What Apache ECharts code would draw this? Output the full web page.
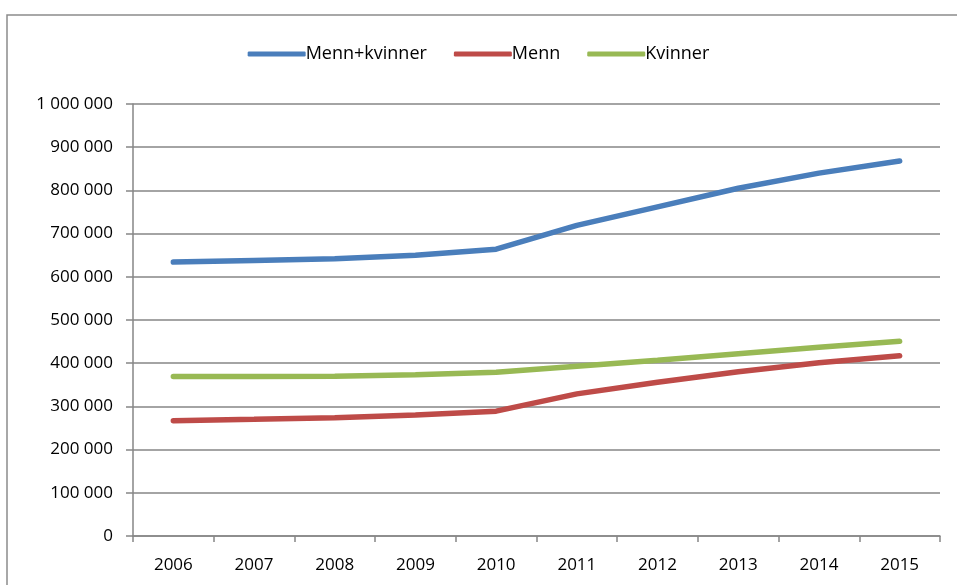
<!DOCTYPE html>
<html>
<head>
<meta charset="utf-8">
<script src="https://cdn.jsdelivr.net/npm/echarts@6/dist/echarts.min.js"></script>
<style>
  html, body { margin: 0; padding: 0; background: #fff; }
  #chart { width: 957px; height: 585px; }
</style>
</head>
<body>
<div id="chart"></div>
<script>
// data
const years = ['2006', '2007', '2008', '2009', '2010', '2011', '2012', '2013', '2014', '2015'];
const mennKvinner = [634000, 638000, 642000, 650000, 664000, 719000, 762000, 805000, 840000, 868000];
const menn = [267000, 270000, 274000, 280000, 289000, 329000, 356000, 380000, 401000, 417000];
const kvinner = [369000, 369500, 370000, 373000, 379000, 393000, 407000, 422000, 437000, 451000];

const myChart = echarts.init(document.getElementById('chart'));

const fmt = v => String(v).replace(/\B(?=(\d{3})+(?!\d))/g, ' ');

const option = {
    animation: false,
    textStyle: { fontFamily: 'Open Sans', color: '#000' },
    graphic: [
        {
            type: 'rect',
            shape: { x: 7, y: 15, width: 1000, height: 620 },
            style: { fill: 'none', stroke: '#8c8c8c', lineWidth: 1.5 },
            silent: true
        }
    ],
    legend: {
        top: 40,
        left: 'center',
        itemWidth: 58,
        itemHeight: 5,
        itemGap: 27,
        icon: 'roundRect',
        textStyle: { fontSize: 18, color: '#000', padding: [0, 0, 0, -5] },
        data: ['Menn+kvinner', 'Menn', 'Kvinner']
    },
    grid: { left: 133, right: 17, top: 104, bottom: 49 },
    xAxis: {
        type: 'category',
        data: years,
        boundaryGap: true,
        axisLine: { lineStyle: { color: '#868686', width: 1.5 } },
        axisTick: { show: true, length: 6, lineStyle: { color: '#868686', width: 1.5 } },
        axisLabel: { fontSize: 17, color: '#000', margin: 21 }
    },
    yAxis: {
        type: 'value',
        min: 0,
        max: 1000000,
        interval: 100000,
        axisLine: { show: true, lineStyle: { color: '#868686', width: 1.5 } },
        axisTick: { show: true, length: 7, lineStyle: { color: '#868686', width: 1.5 } },
        axisLabel: { fontSize: 17, color: '#000', margin: 20, formatter: fmt },
        splitLine: { lineStyle: { color: '#868686', width: 1.5 } }
    },
    series: [
        {
            name: 'Menn+kvinner',
            type: 'line',
            data: mennKvinner,
            color: '#4a7ebb',
            showSymbol: false,
            lineStyle: { width: 5.5, cap: 'round' }
        },
        {
            name: 'Menn',
            type: 'line',
            data: menn,
            color: '#be4b48',
            showSymbol: false,
            lineStyle: { width: 5.5, cap: 'round' }
        },
        {
            name: 'Kvinner',
            type: 'line',
            data: kvinner,
            color: '#98b954',
            showSymbol: false,
            lineStyle: { width: 5.5, cap: 'round' }
        }
    ]
};

myChart.setOption(option);
</script>
</body>
</html>
